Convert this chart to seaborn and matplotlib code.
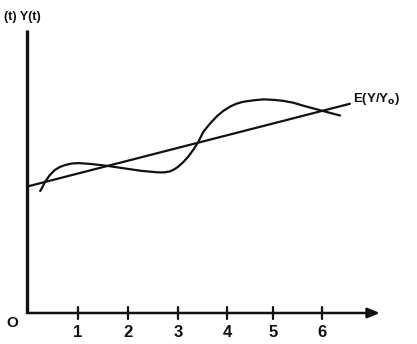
import matplotlib
matplotlib.use("Agg")
import matplotlib.pyplot as plt
import seaborn as sns
import pandas as pd

sns.set_theme(style="white")
plt.rcParams['font.family'] = ['Liberation Sans', 'DejaVu Sans']

# Data
curve_t = [0.27, 0.32, 0.37, 0.47, 0.57, 0.67, 0.78, 0.91, 1.05, 1.32, 1.66, 2.00,
           2.34, 2.68, 2.80, 2.92, 3.02, 3.09, 3.19, 3.29, 3.40, 3.50, 3.60, 3.74,
           3.87, 4.00, 4.14, 4.27, 4.41, 4.62, 4.82, 5.03, 5.23, 5.44, 5.64, 6.05, 6.39]
curve_y = [2.49, 2.58, 2.68, 2.82, 2.92, 2.98, 3.02, 3.05, 3.06, 3.04, 3.00, 2.95,
           2.90, 2.87, 2.87, 2.89, 2.94, 2.99, 3.08, 3.19, 3.34, 3.50, 3.70, 3.87,
           4.01, 4.12, 4.21, 4.27, 4.31, 4.34, 4.36, 4.35, 4.33, 4.29, 4.23, 4.12, 4.03]
trend_t = [0.0, 6.59]
trend_y = [2.58, 4.27]
tick_labels = ["1", "2", "3", "4", "5", "6"]
tick_pos = [1.04, 2.06, 3.08, 4.08, 5.02, 6.02]

curve = pd.DataFrame({"t": curve_t, "y": curve_y})
trend = pd.DataFrame({"t": trend_t, "y": trend_y})

fig = plt.figure(figsize=(4.17, 3.44), dpi=100)
ax = fig.add_axes([0, 0, 1, 1])
ax.set_xlim(-27 / 49, 390 / 49)
ax.set_ylim(-31 / 49, 313 / 49)
for s in ax.spines.values():
    s.set_visible(False)
ax.set_xticks([])
ax.set_yticks([])

ink = "#111111"
sns.lineplot(data=curve, x="t", y="y", ax=ax, color=ink, lw=1.6,
             solid_joinstyle="round", solid_capstyle="round")
sns.lineplot(data=trend, x="t", y="y", ax=ax, color=ink, lw=1.6)

# axes
ax.plot([0, 0], [0, 5.78], color=ink, lw=2.4, solid_capstyle="butt")
ax.annotate("", xy=(7.2, 0), xytext=(0, 0),
            arrowprops=dict(arrowstyle="-|>,head_length=0.6,head_width=0.25",
                            color=ink, lw=1.8, shrinkA=0, shrinkB=0))
for p, lab in zip(tick_pos, tick_labels):
    ax.plot([p, p], [-0.13, 0.13], color=ink, lw=1.6)
    ax.text(p, -0.40, lab, ha="center", va="center", fontsize=12,
            fontweight="bold", color=ink)

ax.text(-0.29, -0.20, "O", ha="center", va="center", fontsize=11,
        fontweight="bold", color=ink)
ax.text(-0.46, 6.05, "(t) Y(t)", ha="left", va="center", fontsize=9,
        fontweight="bold", color=ink)
ax.text(6.65, 4.37, "E(Y/Y$_\\mathbf{o}$)", ha="left", va="center", fontsize=9.5,
        fontweight="bold", color=ink)

fig.savefig("out.png", dpi=100, facecolor="white")
